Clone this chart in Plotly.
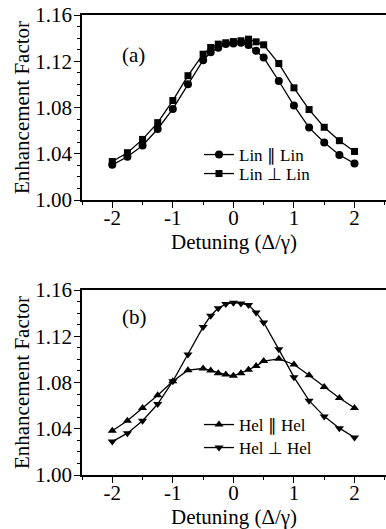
import plotly.graph_objects as go

# ---- data ----
detuning = [-2, -1.75, -1.5, -1.25, -1, -0.75, -0.5, -0.375, -0.25, -0.125, 0,
            0.125, 0.25, 0.375, 0.5, 0.75, 1, 1.25, 1.5, 1.75, 2]

lin_par = [1.0304, 1.0374, 1.0472, 1.0614, 1.0788, 1.1000, 1.1209, 1.1278, 1.1316, 1.1350, 1.1354,
           1.1360, 1.1340, 1.1290, 1.1232, 1.1029, 1.0817, 1.0626, 1.0498, 1.0390, 1.0316]
lin_perp = [1.0333, 1.0409, 1.0524, 1.0669, 1.0860, 1.1075, 1.1261, 1.1319, 1.1348, 1.1360, 1.1370,
            1.1377, 1.1391, 1.1368, 1.1342, 1.1180, 1.0970, 1.0782, 1.0629, 1.0513, 1.0420]

hel_par = [1.0382, 1.0469, 1.0579, 1.0689, 1.0811, 1.0907, 1.0921, 1.0904, 1.0881, 1.0869, 1.0858,
           1.0881, 1.0910, 1.0942, 1.0985, 1.1005, 1.0956, 1.0863, 1.0762, 1.0666, 1.0579]
hel_perp = [1.0289, 1.0362, 1.0469, 1.0614, 1.0811, 1.1043, 1.1281, 1.1377, 1.1443, 1.1478, 1.1490,
            1.1484, 1.1470, 1.1406, 1.1319, 1.1087, 1.0846, 1.0643, 1.0507, 1.0405, 1.0324]

y_ticks = [1.00, 1.04, 1.08, 1.12, 1.16]
x_ticks = [-2, -1, 0, 1, 2]
panel_labels = ["(a)", "(b)"]
series_names = ["Lin \u2225 Lin", "Lin \u22a5 Lin", "Hel \u2225 Hel", "Hel \u22a5 Hel"]

FONT = "Liberation Serif"
W, H = 386, 529
ML, MR, MT, MB = 82, 0, 15, 54
PH = H - MT - MB
PW = W - ML - MR

def px_x(p):
    return (p - ML) / PW

def px_y(p):
    return (H - MB - p) / PH

fig = go.Figure()
line = dict(color="black", width=1.3)
specs = [
    (lin_par, "circle", 8, "x", "y", "legend"),
    (lin_perp, "square", 7, "x", "y", "legend2"),
    (hel_par, "triangle-up", 8, "x2", "y2", "legend3"),
    (hel_perp, "triangle-down", 8, "x2", "y2", "legend4"),
]
for name, (ys, sym, sz, xa, ya, lg) in zip(series_names, specs):
    fig.add_trace(go.Scatter(x=detuning, y=ys, mode="lines+markers", name=name,
                             line=line, marker=dict(symbol=sym, size=sz, color="black"),
                             xaxis=xa, yaxis=ya, legend=lg))

top_dom = [px_y(200), 1]
bot_dom = [0, px_y(290)]

def xax(anchor):
    return dict(range=[-2.5, 2.52], tickvals=x_ticks, ticktext=[str(v) for v in x_ticks],
                showline=True, linecolor="black", linewidth=1.5, mirror=True,
                ticks="outside", ticklen=6, tickcolor="black", tickwidth=1.2,
                minor=dict(dtick=0.5, tick0=0, ticks="outside", ticklen=3, tickcolor="black"),
                showgrid=False, zeroline=False, anchor=anchor,
                ticklabelstandoff=-8,
                tickfont=dict(family=FONT, size=21, color="black"),
                title=dict(text="Detuning (\u0394/\u03b3)", font=dict(family=FONT, size=21, color="black"),
                           standoff=0))

def yax(anchor, dom):
    return dict(range=[1.0, 1.16], tickvals=y_ticks, ticktext=["%.2f" % v for v in y_ticks],
                showline=True, linecolor="black", linewidth=1.5, mirror=False,
                ticks="outside", ticklen=6, tickcolor="black", tickwidth=1.2,
                minor=dict(dtick=0.01, tick0=1.0, ticks="outside", ticklen=3, tickcolor="black"),
                showgrid=False, zeroline=False, anchor=anchor, domain=dom,
                ticklabelstandoff=-2,
                tickfont=dict(family=FONT, size=21, color="black"),
                title=dict(text="Enhancement Factor", font=dict(family=FONT, size=21, color="black"),
                           standoff=0))

def leg(xp, yp):
    return dict(x=px_x(xp), y=px_y(yp), xanchor="left", yanchor="middle",
                bgcolor="rgba(0,0,0,0)", font=dict(family=FONT, size=17, color="black"),
                itemwidth=30, tracegroupgap=0)

fig.update_layout(
    width=W, height=H,
    margin=dict(l=ML, r=MR, t=MT, b=MB),
    paper_bgcolor="white", plot_bgcolor="white",
    xaxis=xax("y"), yaxis=yax("x", top_dom),
    xaxis2=xax("y2"), yaxis2=yax("x2", bot_dom),
    legend=leg(199, 155), legend2=leg(199, 174),
    legend3=leg(199, 425), legend4=leg(199, 448),
    showlegend=True,
)

fig.add_annotation(x=px_x(120), y=px_y(41), xref="paper", yref="paper",
                   text=panel_labels[0], showarrow=False,
                   font=dict(family=FONT, size=21, color="black"))
fig.add_annotation(x=px_x(120), y=px_y(317), xref="paper", yref="paper",
                   text=panel_labels[1], showarrow=False,
                   font=dict(family=FONT, size=21, color="black"))

fig.write_html("out.html")
